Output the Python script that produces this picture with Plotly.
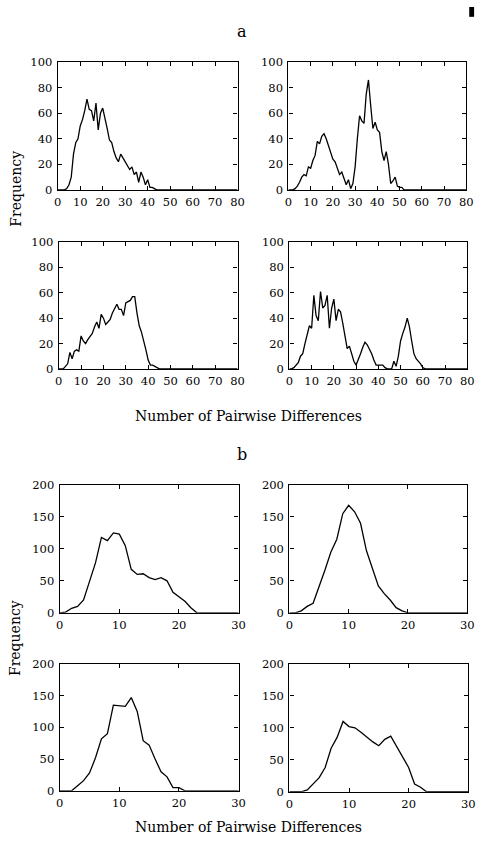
import plotly.graph_objects as go

W, H = 486, 844

# ---- data ----
xa = list(range(0, 81))
a1_vals = [0, 0, 0, 0, 1, 4, 10, 28, 37, 40, 50, 55, 62, 71, 63, 62, 54, 68, 47, 60,
           64, 57, 48, 39, 37, 30, 25, 22, 28, 25, 22, 18, 16, 18, 12, 14, 6, 14, 10, 4,
           8, 2, 2, 1, 0]
a2_vals = [0, 0, 0, 1, 3, 6, 10, 12, 11, 18, 17, 23, 27, 38, 36, 42, 44, 40, 34, 29,
           24, 22, 16, 12, 14, 8, 4, 8, 1, 5, 18, 40, 58, 54, 52, 75, 86, 66, 48, 53,
           47, 45, 30, 23, 30, 20, 5, 7, 10, 3, 2, 2, 0]
a3_vals = [0, 0, 0, 2, 4, 13, 8, 14, 15, 14, 26, 22, 20, 23, 26, 28, 33, 37, 32, 43,
           40, 35, 37, 39, 44, 47, 51, 47, 47, 42, 52, 53, 54, 57, 57, 44, 34, 29, 23, 15,
           7, 3, 3, 2, 1, 0]
a4_vals = [0, 0, 1, 3, 5, 10, 12, 20, 28, 34, 32, 58, 42, 38, 61, 48, 50, 58, 32, 48,
           55, 38, 47, 45, 36, 26, 16, 18, 12, 6, 3, 7, 12, 17, 21, 19, 16, 12, 7, 3,
           3, 3, 3, 1, 0, 0, 0, 6, 2, 10, 22, 28, 33, 40, 33, 22, 12, 8, 6, 4,
           1, 0]

xb = list(range(0, 31))
b1_vals = [0, 1, 7, 10, 20, 48, 78, 118, 113, 125, 123, 105, 68, 60, 61, 55, 52, 55, 50, 32,
           25, 18, 8, 0]
b2_vals = [0, 0, 3, 10, 15, 40, 67, 95, 115, 155, 168, 158, 140, 97, 70, 42, 30, 20, 8, 3, 0]
b3_vals = [0, 0, 0, 8, 16, 28, 52, 82, 90, 135, 134, 133, 147, 125, 79, 72, 50, 30, 22, 5,
           5, 0]
b4_vals = [0, 0, 0, 3, 12, 22, 38, 68, 85, 110, 102, 100, 93, 85, 78, 72, 82, 87, 70, 55,
           38, 12, 7, 0]

def pad(vals, n):
    return vals + [0] * (n - len(vals))

series = [
    (xa, pad(a1_vals, 81)), (xa, pad(a2_vals, 81)),
    (xa, pad(a3_vals, 81)), (xa, pad(a4_vals, 81)),
    (xb, pad(b1_vals, 31)), (xb, pad(b2_vals, 31)),
    (xb, pad(b3_vals, 31)), (xb, pad(b4_vals, 31)),
]

# plot boxes in pixels: (left, right, top, bottom)
boxes = [
    (55, 239, 56, 186), (291, 473, 56, 186),
    (56, 239, 239, 368), (292, 474, 239, 368),
    (57, 240, 486, 616), (292, 474, 486, 616),
    (57, 240, 668, 797), (292, 475, 668, 798),
]

FONT = "DejaVu Serif"
fig = go.Figure()
layout = dict(
    width=W, height=H, margin=dict(l=0, r=0, t=0, b=0),
    paper_bgcolor="white", plot_bgcolor="white", showlegend=False,
    font=dict(family=FONT, size=11, color="black"),
)

for i, ((x, y), (l, r, t, b)) in enumerate(zip(series, boxes)):
    k = i + 1
    xn = "x" if k == 1 else f"x{k}"
    yn = "y" if k == 1 else f"y{k}"
    fig.add_trace(go.Scatter(x=x, y=y, mode="lines", xaxis=xn, yaxis=yn,
                             line=dict(color="black", width=1.3), hoverinfo="skip"))
    is_a = i < 4
    common = dict(showline=True, mirror="ticks", linecolor="black", linewidth=1.3,
                  ticks="inside", ticklen=4, tickwidth=1.3, tickcolor="black",
                  showgrid=False, zeroline=False,
                  tickfont=dict(family=FONT, size=11.5, color="black"))
    layout["xaxis" if k == 1 else f"xaxis{k}"] = dict(
        domain=[l / W, r / W], anchor=yn,
        range=[0, 80] if is_a else [0, 30],
        tickvals=list(range(0, 81, 10)) if is_a else [0, 10, 20, 30],
        ticklabelstandoff=1, **common)
    layout["yaxis" if k == 1 else f"yaxis{k}"] = dict(
        domain=[1 - b / H, 1 - t / H], anchor=xn,
        range=[0, 100] if is_a else [0, 200],
        tickvals=list(range(0, 101, 20)) if is_a else [0, 50, 100, 150, 200],
        ticklabelstandoff=2, **common)

fig.update_layout(**layout)

def txt(s, x, y, size=13, angle=0):
    fig.add_annotation(text=s, x=x / W, y=1 - y / H, xref="paper", yref="paper",
                       showarrow=False, textangle=angle,
                       font=dict(family=FONT, size=size, color="black"),
                       xanchor="center", yanchor="middle")

txt("a", 243, 25, size=16)
txt("b", 243, 455, size=16)
txt("Number of Pairwise Differences", 250, 416, size=14)
txt("Number of Pairwise Differences", 250, 834, size=14)
txt("Frequency", 12, 185, size=14, angle=-90)
txt("Frequency", 12, 642, size=14, angle=-90)

fig.add_shape(type="rect", xref="paper", yref="paper",
              x0=476 / W, x1=481 / W, y0=1 - 10 / H, y1=1.0,
              fillcolor="black", line=dict(width=0))

fig.write_html("out.html")
